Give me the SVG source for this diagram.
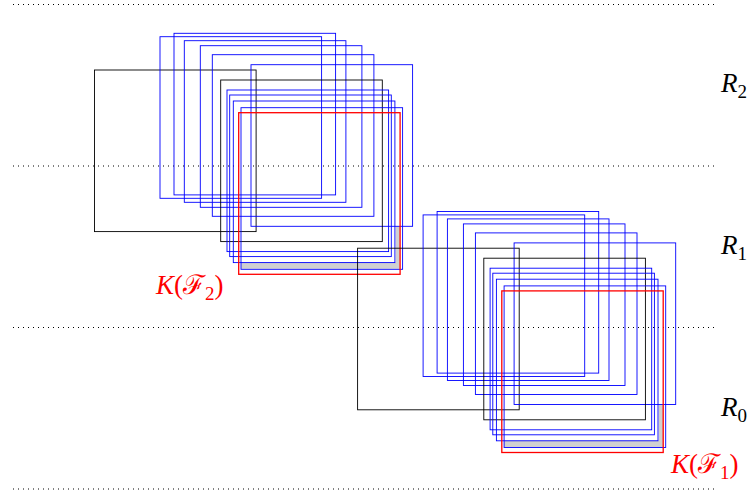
<svg xmlns="http://www.w3.org/2000/svg" width="752" height="493" viewBox="0 0 752 493">
<style>
.sq{fill:none;stroke-width:0.9}
.b{stroke:#0000ff}
.k{stroke:#000}
.r{stroke:#ff0000;stroke-width:1.3}
.dot{stroke:#000;stroke-width:1;stroke-dasharray:1 4}
.gray{fill:#d0d0d0;stroke:none}
.lbl{font-family:"Liberation Serif","DejaVu Serif",serif;font-size:27px}
.it{font-style:italic}
.sub{font-size:19px}
</style>
<defs>
<g id="cluster">
<path class="gray" d="M241,262.3 H395.7 V226.3 H400 V268.7 H241 Z"/>
<rect class="sq k" x="94.5" y="70" width="161.6" height="161.6"/>
<rect class="sq b" x="160" y="36.7" width="161.6" height="161.6"/>
<rect class="sq b" x="174" y="33.3" width="161.6" height="161.6"/>
<rect class="sq b" x="184.3" y="40.7" width="161.6" height="161.6"/>
<rect class="sq b" x="200.3" y="45.7" width="161.6" height="161.6"/>
<rect class="sq b" x="212.3" y="54.7" width="161.6" height="161.6"/>
<rect class="sq b" x="251" y="64.7" width="161.6" height="161.6"/>
<rect class="sq k" x="220.7" y="80" width="161.6" height="161.6"/>
<rect class="sq b" x="227" y="90" width="161.6" height="161.6"/>
<rect class="sq b" x="229.7" y="95" width="161.6" height="161.6"/>
<rect class="sq b" x="233.3" y="101" width="161.6" height="161.6"/>
<rect class="sq b" x="241" y="107.7" width="161.6" height="161.6"/>
<rect class="sq r" x="238.7" y="112.7" width="161.4" height="161.6"/>
</g>
</defs>
<g id="levels">
<line class="dot" x1="13" y1="4.5" x2="718" y2="4.5"/>
<line class="dot" x1="13" y1="166" x2="718" y2="166"/>
<line class="dot" x1="13" y1="327.5" x2="718" y2="327.5"/>
<line class="dot" x1="13" y1="489" x2="718" y2="489"/>
</g>
<g id="family2"><use href="#cluster"/></g>
<g id="family1"><use href="#cluster" transform="translate(263.1,178.2)"/></g>
<g id="labels">
<text class="lbl" x="721" y="92"><tspan class="it">R</tspan><tspan class="sub" dy="6">2</tspan></text>
<text class="lbl" x="721" y="254"><tspan class="it">R</tspan><tspan class="sub" dy="6">1</tspan></text>
<text class="lbl" x="721" y="416"><tspan class="it">R</tspan><tspan class="sub" dy="6">0</tspan></text>
<text class="lbl" x="156" y="294" fill="#ff0000"><tspan class="it">K</tspan>(ℱ<tspan class="sub" dy="6">2</tspan><tspan dy="-6">)</tspan></text>
<text class="lbl" x="671" y="473" fill="#ff0000"><tspan class="it">K</tspan>(ℱ<tspan class="sub" dy="6">1</tspan><tspan dy="-6">)</tspan></text>
</g>
</svg>
